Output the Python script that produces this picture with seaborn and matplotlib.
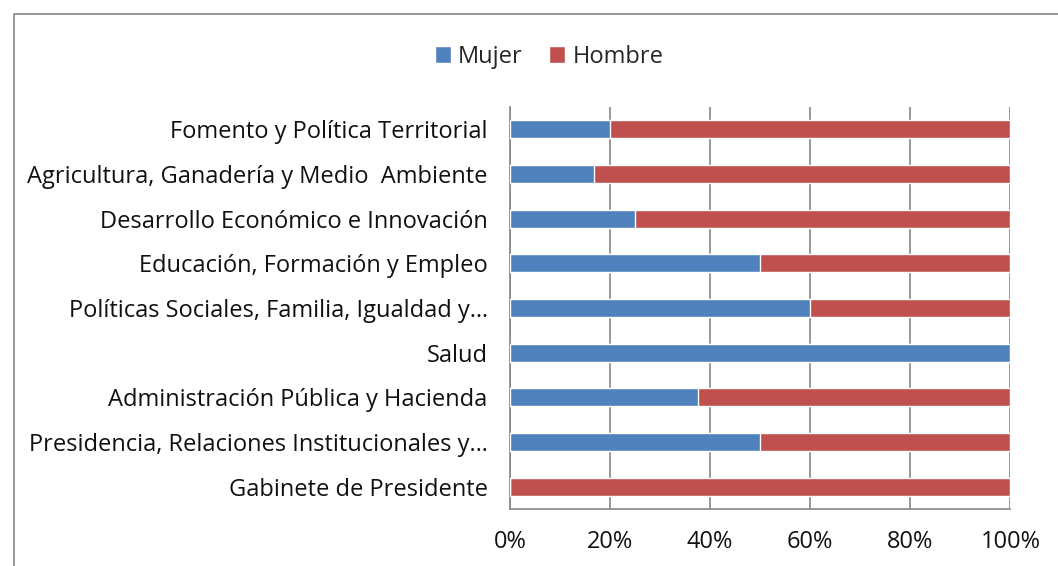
import numpy as np
import pandas as pd
import seaborn as sns
import matplotlib.pyplot as plt
from matplotlib.patches import Rectangle

sns.set_theme(style="white")
plt.rcParams['font.family'] = ['Open Sans', 'DejaVu Sans']

categorias = ["Fomento y Política Territorial",
              "Agricultura, Ganadería y Medio  Ambiente",
              "Desarrollo Económico e Innovación",
              "Educación, Formación y Empleo",
              "Políticas Sociales, Familia, Igualdad y…",
              "Salud",
              "Administración Pública y Hacienda",
              "Presidencia, Relaciones Institucionales y…",
              "Gabinete de Presidente"]
mujer = [20, 16.7, 25, 50, 60, 100, 37.5, 50, 0]
hombre = [80, 83.3, 75, 50, 40, 0, 62.5, 50, 100]
ticks = [0, 20, 40, 60, 80, 100]

azul = "#4F81BD"
rojo = "#C0504D"

df = pd.DataFrame({"cat": categorias, "Mujer": mujer, "Hombre": hombre})
df["total"] = df["Mujer"] + df["Hombre"]

fig = plt.figure(figsize=(10.58, 5.66), dpi=100)
ax = fig.add_axes([0.482, 0.1007, 0.473, 0.7102])

# fondo rojo = total, encima azul = mujer
sns.barplot(data=df, y="cat", x="total", color=rojo, width=0.4,
            orient="h", ax=ax, saturation=1, label="Hombre", zorder=3)
sns.barplot(data=df, y="cat", x="Mujer", color=azul, width=0.4,
            orient="h", ax=ax, saturation=1, label="Mujer", zorder=4)

h, l = ax.get_legend_handles_labels()
if ax.legend_ is not None:
    ax.legend_.remove()

ax.set_xlim(0, 100)
ax.set_ylim(len(categorias) - 0.5, -0.5)
ax.set_xticks(ticks)
ax.set_xticklabels([f"{t}%" for t in ticks], fontsize=17, color="#111111")
ax.set_yticks(range(len(categorias)))
ax.set_yticklabels(categorias, fontsize=17, color="#111111")
ax.tick_params(axis="y", length=0, pad=16)
ax.tick_params(axis="x", length=6, width=1.2, color="#868686", direction="out", pad=9)
ax.set_xlabel("")
ax.set_ylabel("")

# marcas del eje y entre categorías
ax.set_yticks(np.arange(-0.5, len(categorias), 1), minor=True)
ax.tick_params(axis="y", which="minor", length=6, width=1.2, color="#868686", direction="out")

ax.grid(axis="x", color="#868686", linewidth=1.2, zorder=0)
ax.set_axisbelow(True)
for s in ["top", "right"]:
    ax.spines[s].set_visible(False)
for s in ["left", "bottom"]:
    ax.spines[s].set_color("#868686")
    ax.spines[s].set_linewidth(1.2)

order = [l.index("Mujer"), l.index("Hombre")]
fig.legend([h[i] for i in order], [l[i] for i in order], loc="center",
           bbox_to_anchor=(0.519, 0.9), ncol=2, frameon=False, fontsize=17,
           handlelength=0.7, handleheight=0.7, handletextpad=0.3, columnspacing=1.1)

# borde exterior del gráfico
fig.patches.append(Rectangle((14 / 1058, -0.1), 1.2, 1 - 14 / 566 + 0.1,
                             transform=fig.transFigure, fill=False,
                             edgecolor="#868686", linewidth=1.2))

fig.savefig("out.png", dpi=100)
